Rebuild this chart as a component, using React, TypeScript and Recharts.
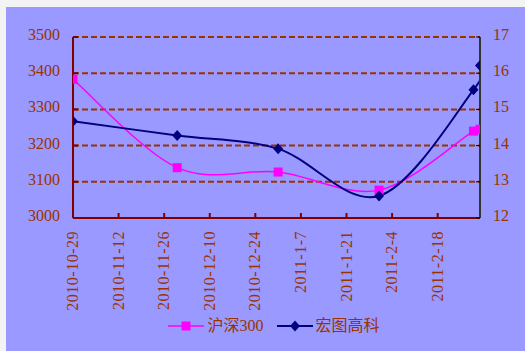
import React from 'react';
import { LineChart, Line, XAxis, YAxis, CartesianGrid, Legend } from 'recharts';

// ---- data ----
const dates = ['2010-10-29', '2010-11-30', '2010-12-31', '2011-1-31', '2011-3-1', '2011-3-3'];
const hs300 = [3383, 3139, 3127, 3077, 3240, 3245];
const hongtu = [14.67, 14.28, 13.91, 12.61, 15.54, 16.21];
const xTickLabels = [
  '2010-10-29', '2010-11-12', '2010-11-26', '2010-12-10', '2010-12-24',
  '2011-1-7', '2011-1-21', '2011-2-4', '2011-2-18',
];
const xDomainStart = '2010-10-29';
const xDomainEnd = '2011-3-3';
const leftTicks = [3000, 3100, 3200, 3300, 3400, 3500];
const rightTicks = [12, 13, 14, 15, 16, 17];
const seriesNames = ['沪深300', '宏图高科'];

// ---- helpers ----
const dayNum = (s: string) => {
  const [y, m, d] = s.split('-').map(Number);
  return Date.UTC(y, m - 1, d) / 86400000;
};
const labelByDay: Record<number, string> = {};
xTickLabels.forEach((l) => (labelByDay[dayNum(l)] = l));

const data = dates.map((d, i) => ({ t: dayNum(d), hs: hs300[i], ht: hongtu[i] }));

const TEXT = '#993300';
const FONT = "'Liberation Serif', 'Times New Roman', 'Noto Sans CJK SC', serif";

// Catmull-Rom style smoothing similar to Excel's smoothed lines
const smoothCurve: any = (context: any) => {
  let pts: number[][] = [];
  return {
    areaStart() {},
    areaEnd() {},
    lineStart() {
      pts = [];
    },
    point(x: number, y: number) {
      pts.push([+x, +y]);
    },
    lineEnd() {
      if (!pts.length) return;
      context.moveTo(pts[0][0], pts[0][1]);
      for (let i = 0; i < pts.length - 1; i++) {
        const p0 = pts[i - 1] || pts[i];
        const p1 = pts[i];
        const p2 = pts[i + 1];
        const p3 = pts[i + 2] || p2;
        context.bezierCurveTo(
          p1[0] + (p2[0] - p0[0]) / 6,
          p1[1] + (p2[1] - p0[1]) / 6,
          p2[0] - (p3[0] - p1[0]) / 6,
          p2[1] - (p3[1] - p1[1]) / 6,
          p2[0],
          p2[1]
        );
      }
    },
  };
};

const SquareDot = (props: any) => {
  const { cx, cy, index } = props;
  if (cx == null || cy == null) return <g key={`sq-${index}`} />;
  return <rect key={`sq-${index}`} x={cx - 4.5} y={cy - 4.5} width={9} height={9} fill="#FF00FF" />;
};

const DiamondDot = (props: any) => {
  const { cx, cy, index } = props;
  if (cx == null || cy == null) return <g key={`dm-${index}`} />;
  return (
    <path
      key={`dm-${index}`}
      d={`M${cx},${cy - 5.5}L${cx + 5},${cy}L${cx},${cy + 5.5}L${cx - 5},${cy}Z`}
      fill="#000080"
    />
  );
};

const LeftTick = (props: any) => {
  const { x, y, payload } = props;
  return (
    <text x={x} y={y} dy={3} textAnchor="end" fill={TEXT} fontSize={16} fontFamily={FONT}>
      {payload.value}
    </text>
  );
};

const RightTick = (props: any) => {
  const { x, y, payload } = props;
  return (
    <text x={x} y={y} dy={3} textAnchor="start" fill={TEXT} fontSize={16} fontFamily={FONT}>
      {payload.value}
    </text>
  );
};

const BottomTick = (props: any) => {
  const { x, y, payload } = props;
  return (
    <text
      transform={`translate(${x},${y}) rotate(-90)`}
      dy={5}
      textAnchor="end"
      fill={TEXT}
      fontSize={16}
      fontFamily={FONT}
      letterSpacing={0.5}
    >
      {labelByDay[payload.value] ?? ''}
    </text>
  );
};

const LegendContent = () => (
  <div
    style={{
      display: 'flex',
      justifyContent: 'center',
      alignItems: 'center',
      height: 24,
      paddingLeft: 17,
      boxSizing: 'border-box',
      fontFamily: FONT,
      fontSize: 16,
      color: TEXT,
      lineHeight: '24px',
    }}
  >
    <svg width={36} height={12} style={{ display: 'block' }}>
      <line x1={0} y1={6} x2={36} y2={6} stroke="#FF00FF" strokeWidth={1.5} />
      <rect x={13.5} y={1.5} width={9} height={9} fill="#FF00FF" />
    </svg>
    <span style={{ marginLeft: 3, marginRight: 13 }}>{seriesNames[0]}</span>
    <svg width={36} height={12} style={{ display: 'block' }}>
      <line x1={0} y1={6} x2={36} y2={6} stroke="#000080" strokeWidth={2} />
      <path d="M18,0.5L23,6L18,11.5L13,6Z" fill="#000080" />
    </svg>
    <span style={{ marginLeft: 3 }}>{seriesNames[1]}</span>
  </div>
);

export default function App() {
  return (
    <div
      style={{
        position: 'absolute',
        left: 0,
        top: 0,
        width: 525,
        height: 351,
        background: '#f3f3f3',
        overflow: 'hidden',
      }}
    >
      <div style={{ position: 'absolute', left: 6, top: 7, width: 519, height: 344, background: '#9999FF' }}>
        <LineChart width={519} height={344} data={data} margin={{ top: 30, right: 0, bottom: 13, left: 0 }}>
          <CartesianGrid
            yAxisId="left"
            vertical={false}
            stroke="#993300"
            strokeWidth={2}
            strokeDasharray="6 3"
          />
          <XAxis
            dataKey="t"
            type="number"
            domain={[dayNum(xDomainStart), dayNum(xDomainEnd)]}
            ticks={xTickLabels.map(dayNum)}
            allowDataOverflow
            height={96}
            tickSize={-5}
            tickMargin={18}
            axisLine={{ stroke: '#800000', strokeWidth: 2 }}
            tickLine={{ stroke: '#800000', strokeWidth: 2 }}
            tick={<BottomTick />}
            interval={0}
          />
          <YAxis
            yAxisId="left"
            orientation="left"
            width={67}
            domain={[3000, 3500]}
            ticks={leftTicks}
            allowDataOverflow
            tickSize={-5}
            tickMargin={18}
            axisLine={{ stroke: '#800000', strokeWidth: 2 }}
            tickLine={{ stroke: '#800000', strokeWidth: 2 }}
            tick={<LeftTick />}
            interval={0}
          />
          <YAxis
            yAxisId="right"
            orientation="right"
            width={45}
            domain={[12, 17]}
            ticks={rightTicks}
            allowDataOverflow
            tickSize={-4}
            tickMargin={17}
            axisLine={{ stroke: '#333333', strokeWidth: 2 }}
            tickLine={{ stroke: '#000000', strokeWidth: 1 }}
            tick={<RightTick />}
            interval={0}
          />
          <Legend
            verticalAlign="bottom"
            content={<LegendContent />}
            wrapperStyle={{ left: 0, width: 519, height: 24 }}
          />
          <Line
            yAxisId="left"
            dataKey="hs"
            name={seriesNames[0]}
            type={smoothCurve}
            stroke="#FF00FF"
            strokeWidth={1.5}
            dot={SquareDot}
            activeDot={false}
            isAnimationActive={false}
          />
          <Line
            yAxisId="right"
            dataKey="ht"
            name={seriesNames[1]}
            type={smoothCurve}
            stroke="#000080"
            strokeWidth={2}
            dot={DiamondDot}
            activeDot={false}
            isAnimationActive={false}
          />
        </LineChart>
      </div>
    </div>
  );
}
